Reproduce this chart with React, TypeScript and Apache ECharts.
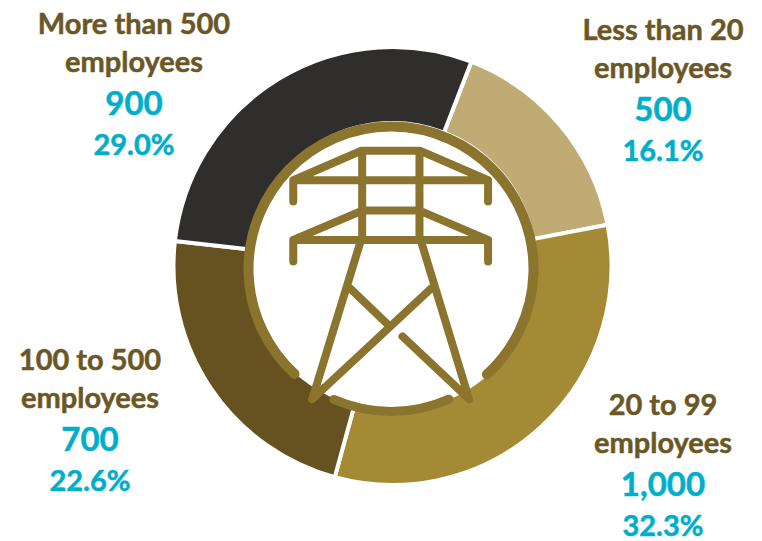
import React, { useEffect, useRef } from "react";
import * as echarts from "echarts";

const categoryLines = [
  ["Less than 20", "employees"],
  ["20 to 99", "employees"],
  ["100 to 500", "employees"],
  ["More than 500", "employees"],
];
const values = [500, 1000, 700, 900];
const valueLabels = ["500", "1,000", "700", "900"];
const sliceColors = ["#BFAB73", "#A58A36", "#665221", "#302E2D"];
const labelCenters = [
  [663, 88],
  [663, 463],
  [90, 418],
  [134, 82],
];

const pylonPath =
  "M190,215 L190,151 L395,62 L570,62 L775,151 L775,215 M190,151 L775,151 " +
  "M397,62 L397,330 M569,62 L569,330 " +
  "M190,395 L190,330 L397,242 L569,242 L775,330 L775,395 M190,330 L775,330 " +
  "M392,335 L247,808 M574,335 L718,808 M247,808 L605,475 M360,475 L475,585 M518,620 L718,808";

const deg = (d: number) => (d * Math.PI) / 180;

export default function App() {
  const ref = useRef<HTMLDivElement>(null);
  useEffect(() => {
    document.body.style.margin = "0";
    echarts.graphic.registerShape("pylon", echarts.graphic.extendPath(pylonPath, {}));
    const chart = echarts.init(ref.current!, undefined, { renderer: "svg" });
    const stroke = "#8B742D";
    const bold = { fontFamily: "Lato", fontWeight: "bold", align: "center", textBorderWidth: 0.5 };
    chart.setOption({
      animation: false,
      backgroundColor: "#ffffff",
      textStyle: { fontFamily: "Lato" },
      series: [
        {
          type: "pie",
          center: [392.5, 266],
          radius: [143, 219],
          startAngle: 68.9,
          clockwise: true,
          percentPrecision: 1,
          silent: true,
          itemStyle: { borderColor: "#ffffff", borderWidth: 4 },
          data: values.map((value, i) => ({
            value,
            name: categoryLines[i].join(" "),
            itemStyle: { color: sliceColors[i] },
          })),
          labelLine: { show: false },
          label: {
            show: true,
            position: "inside",
            align: "center",
            formatter: (p: any) =>
              `{n|${categoryLines[p.dataIndex][0]}}\n{n|${categoryLines[p.dataIndex][1]}}\n{v|${valueLabels[p.dataIndex]}}\n{p|${p.percent.toFixed(1)}%}`,
            rich: {
              n: { ...bold, fontSize: 29, lineHeight: 38, color: "#6B5726", textBorderColor: "#6B5726" },
              v: { ...bold, fontSize: 33, lineHeight: 46, color: "#00AECB", textBorderColor: "#00AECB" },
              p: { ...bold, fontSize: 29, lineHeight: 36, color: "#00AECB", textBorderColor: "#00AECB" },
            },
          },
          labelLayout: (p: any) => ({
            x: labelCenters[p.dataIndex][0],
            y: labelCenters[p.dataIndex][1],
            align: "center",
            verticalAlign: "middle",
          }),
        },
      ],
      graphic: [
        {
          type: "arc",
          z: 10,
          shape: { cx: 391, cy: 269, r: 142.5, startAngle: deg(132.6), endAngle: deg(407.7), clockwise: true },
          style: { stroke, lineWidth: 10, lineCap: "round", fill: "none" },
        },
        {
          type: "arc",
          z: 10,
          shape: { cx: 391, cy: 269, r: 142.5, startAngle: deg(66), endAngle: deg(113.7), clockwise: true },
          style: { stroke, lineWidth: 9, lineCap: "round", fill: "none" },
        },
        {
          type: "pylon",
          z: 10,
          x: 230,
          y: 130,
          scaleX: 1 / 3,
          scaleY: 1 / 3,
          style: { stroke, lineWidth: 24, lineCap: "round", lineJoin: "round", fill: "none" },
        },
      ],
    });
    return () => chart.dispose();
  }, []);
  return <div ref={ref} style={{ width: 762, height: 541 }} />;
}
